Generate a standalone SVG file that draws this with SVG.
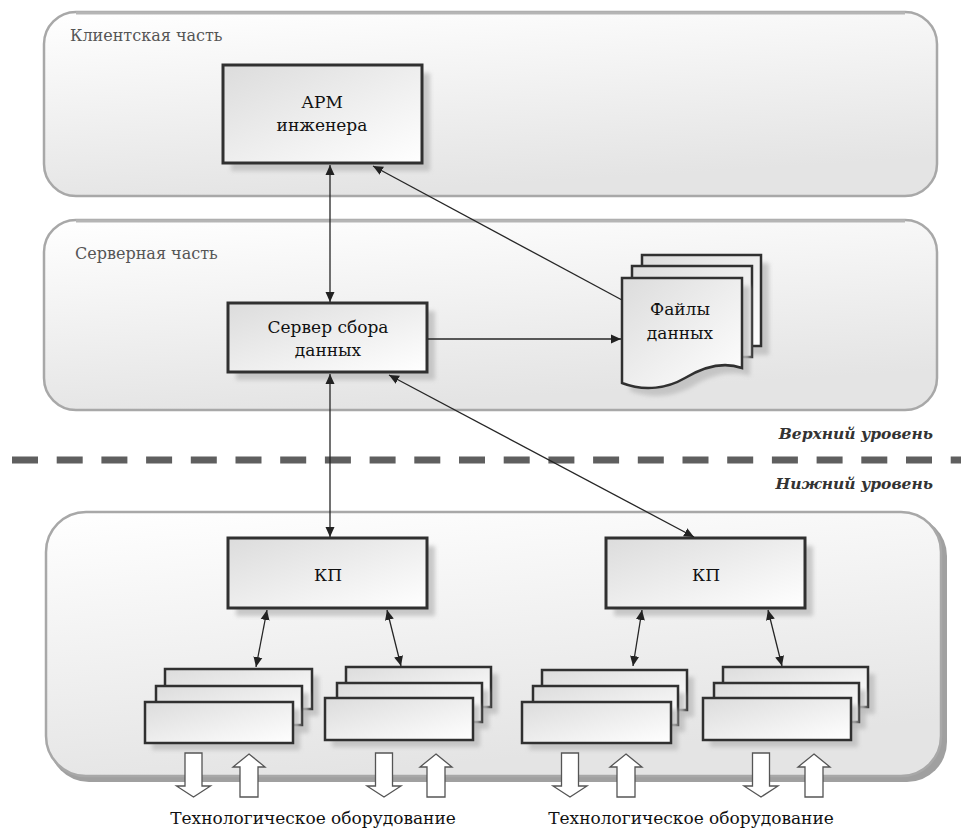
<svg xmlns="http://www.w3.org/2000/svg" width="961" height="828" viewBox="0 0 961 828">
<defs>
  <linearGradient id="panelGrad" x1="0" y1="0" x2="0.3" y2="1">
    <stop offset="0" stop-color="#ffffff"/>
    <stop offset="1" stop-color="#e4e4e4"/>
  </linearGradient>
  <linearGradient id="boxGrad" x1="0" y1="0" x2="1" y2="1">
    <stop offset="0" stop-color="#dcdcdc"/>
    <stop offset="1" stop-color="#ffffff"/>
  </linearGradient>
  <filter id="blur" x="-10%" y="-10%" width="130%" height="130%">
    <feGaussianBlur stdDeviation="2"/>
  </filter>
  <marker id="ah" viewBox="0 0 10 10" markerUnits="userSpaceOnUse" markerWidth="10" markerHeight="10" refX="10" refY="5" orient="auto-start-reverse">
    <path d="M0,0.5 L10,5 L0,9.5 z" fill="#222"/>
  </marker>
  <path id="downArr" d="M-8.5,0 H8.5 V33 H17 L0,44 L-17,33 H-8.5 Z"/>
  <path id="upArr" d="M0,0 L16,13 H9 V43 H-9 V13 H-16 Z"/>
</defs>
<style>
  .panel { fill: url(#panelGrad); stroke: #a8a8a8; stroke-width: 2.5; }
  .box { fill: url(#boxGrad); stroke: #303030; stroke-width: 3; }
  .sbox { fill: url(#boxGrad); stroke: #303030; stroke-width: 2.5; }
  .shadow { fill: #bdbdbd; filter: url(#blur); opacity: 0.8; }
  .title { font-family: "DejaVu Serif", "Liberation Serif", serif; font-size: 16px; fill: #555; }
  .lbl { font-family: "DejaVu Serif", "Liberation Serif", serif; font-size: 17px; fill: #111; text-anchor: middle; }
  .lvl { font-family: "DejaVu Serif", "Liberation Serif", serif; font-size: 15.5px; font-style: italic; font-weight: bold; fill: #333; text-anchor: end; }
  .foot { font-family: "DejaVu Serif", "Liberation Serif", serif; font-size: 17px; fill: #111; text-anchor: middle; }
  .conn { stroke: #262626; stroke-width: 1.3; fill: none; }
  .barr { fill: #ffffff; stroke: #555; stroke-width: 1.3; }
</style>

<!-- Panels -->
<g id="panel-client">
  <rect class="panel" x="44" y="12" width="893" height="184" rx="32" ry="32"/>
  <path d="M76,13 H905" stroke="#b5b5b5" stroke-width="3"/>
  <text class="title" x="70" y="41">Клиентская часть</text>
</g>
<g id="panel-server">
  <rect class="panel" x="44" y="220" width="893" height="190" rx="32" ry="32"/>
  <path d="M76,221 H905" stroke="#b5b5b5" stroke-width="3"/>
  <text class="title" x="75" y="259">Серверная часть</text>
</g>
<g id="panel-lower">
  <rect x="49" y="516" width="898" height="266" rx="40" ry="40" fill="#a0a0a0"/>
  <rect class="panel" x="46" y="512" width="895" height="264" rx="40" ry="40"/>
</g>

<!-- Level separator -->
<g id="levels">
  <text class="lvl" x="933" y="439">Верхний уровень</text>
  <line x1="12" y1="460" x2="961" y2="460" stroke="#5f5f5f" stroke-width="7" stroke-dasharray="26 18.7"/>
  <text class="lvl" x="933" y="489">Нижний уровень</text>
</g>

<!-- Nodes -->
<g id="arm">
  <rect class="shadow" x="231" y="73" width="199" height="98"/>
  <rect class="box" x="223" y="65" width="199" height="98"/>
  <text class="lbl" x="322" y="108">АРМ</text>
  <text class="lbl" x="322" y="131">инженера</text>
</g>

<g id="server">
  <rect class="shadow" x="236" y="311" width="199" height="69"/>
  <rect class="box" x="228" y="303" width="199" height="69"/>
  <text class="lbl" x="328" y="333">Сервер сбора</text>
  <text class="lbl" x="328" y="356">данных</text>
</g>

<g id="files">
  <rect class="shadow" x="650" y="263" width="119" height="92"/>
  <rect class="sbox" x="642" y="255" width="119" height="91"/>
  <rect class="sbox" x="632" y="266" width="120" height="91"/>
  <path class="shadow" d="M630,286 H750 V376 C733,370 713,374 693,386 C676,396 653,400 630,391 Z"/>
  <path class="sbox" d="M622,278 H742 V368 C725,362 705,366 685,378 C668,388 645,392 622,383 Z"/>
  <text class="lbl" x="680" y="315">Файлы</text>
  <text class="lbl" x="680" y="339">данных</text>
</g>

<g id="kp1">
  <rect class="shadow" x="236" y="546" width="199" height="70"/>
  <rect class="box" x="228" y="538" width="199" height="70"/>
  <text class="lbl" x="328" y="581">КП</text>
</g>

<g id="kp2">
  <rect class="shadow" x="614" y="546" width="199" height="70"/>
  <rect class="box" x="606" y="538" width="199" height="70"/>
  <text class="lbl" x="706" y="581">КП</text>
</g>

<g id="group1">
  <rect class="shadow" x="172" y="676" width="147" height="40"/>
  <rect class="sbox" x="165" y="669" width="147" height="40"/>
  <rect class="shadow" x="163" y="693" width="146" height="40"/>
  <rect class="sbox" x="156" y="686" width="146" height="39"/>
  <rect class="shadow" x="152" y="709" width="148" height="41"/>
  <rect class="sbox" x="145" y="702" width="148" height="41"/>
</g>
<g id="group2">
  <rect class="shadow" x="353" y="674" width="145" height="40"/>
  <rect class="sbox" x="346" y="667" width="145" height="40"/>
  <rect class="shadow" x="344" y="690" width="145" height="39"/>
  <rect class="sbox" x="337" y="683" width="145" height="39"/>
  <rect class="shadow" x="332" y="705" width="148" height="42"/>
  <rect class="sbox" x="325" y="698" width="148" height="42"/>
</g>
<g id="group3">
  <rect class="shadow" x="549" y="677" width="145" height="40"/>
  <rect class="sbox" x="542" y="670" width="145" height="40"/>
  <rect class="shadow" x="540" y="693" width="145" height="39"/>
  <rect class="sbox" x="533" y="686" width="145" height="39"/>
  <rect class="shadow" x="529" y="709" width="149" height="41"/>
  <rect class="sbox" x="522" y="702" width="149" height="41"/>
</g>
<g id="group4">
  <rect class="shadow" x="730" y="674" width="145" height="40"/>
  <rect class="sbox" x="723" y="667" width="145" height="40"/>
  <rect class="shadow" x="721" y="690" width="145" height="39"/>
  <rect class="sbox" x="714" y="683" width="145" height="39"/>
  <rect class="shadow" x="710" y="705" width="148" height="42"/>
  <rect class="sbox" x="703" y="698" width="148" height="42"/>
</g>

<!-- Equipment I/O arrows -->
<g id="equipment-left">
  <use href="#downArr" class="barr" x="193.5" y="753"/>
  <use href="#upArr" class="barr" x="249" y="754"/>
  <use href="#downArr" class="barr" x="384" y="753"/>
  <use href="#upArr" class="barr" x="436" y="754"/>
  <text class="foot" x="313" y="824">Технологическое оборудование</text>
</g>
<g id="equipment-right">
  <use href="#downArr" class="barr" x="570" y="753"/>
  <use href="#upArr" class="barr" x="626" y="754"/>
  <use href="#downArr" class="barr" x="761" y="753"/>
  <use href="#upArr" class="barr" x="814" y="754"/>
  <text class="foot" x="691" y="824">Технологическое оборудование</text>
</g>

<!-- Connectors -->
<g id="connectors">
  <path class="conn" d="M330,165 L330,302" marker-start="url(#ah)" marker-end="url(#ah)"/>
  <path class="conn" d="M622,300 L373,166" marker-end="url(#ah)"/>
  <path class="conn" d="M428,339 L621,339" marker-end="url(#ah)"/>
  <path class="conn" d="M330,374 L330,537" marker-start="url(#ah)" marker-end="url(#ah)"/>
  <path class="conn" d="M389,375 L694,537" marker-start="url(#ah)" marker-end="url(#ah)"/>
  <path class="conn" d="M267,610 L256,667" marker-start="url(#ah)" marker-end="url(#ah)"/>
  <path class="conn" d="M387,610 L401,666" marker-start="url(#ah)" marker-end="url(#ah)"/>
  <path class="conn" d="M642,610 L633,666" marker-start="url(#ah)" marker-end="url(#ah)"/>
  <path class="conn" d="M768,610 L782,666" marker-start="url(#ah)" marker-end="url(#ah)"/>
</g>
</svg>
